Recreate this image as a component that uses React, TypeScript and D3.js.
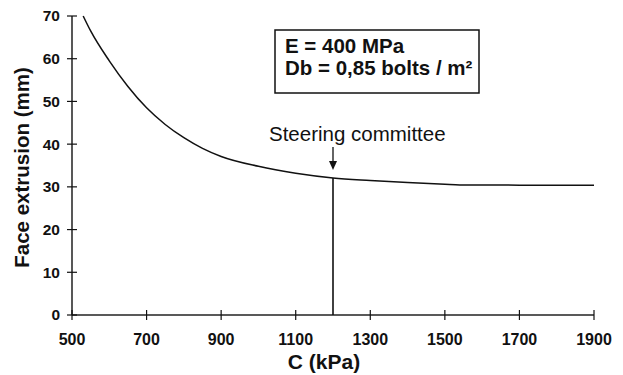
import React, { useEffect } from "react";
import * as d3 from "d3";

const cohesion = [530, 550, 600, 650, 700, 750, 800, 850, 900, 1000, 1100, 1200, 1300, 1400, 1500, 1540, 1700, 1900];
const extrusion = [70, 66.5, 59.5, 53.5, 48.5, 44.6, 41.5, 39.0, 37.1, 34.8, 33.2, 32.1, 31.5, 31.0, 30.6, 30.45, 30.4, 30.35];
const xTicks = [500, 700, 900, 1100, 1300, 1500, 1700, 1900];
const yTicks = [0, 10, 20, 30, 40, 50, 60, 70];
const markerC = 1200;
const markerLabel = "Steering committee";
const boxLines = ["E = 400 MPa", "Db = 0,85 bolts / m²"];
const xTitle = "C (kPa)";
const yTitle = "Face extrusion (mm)";

const W = 623;
const H = 375;
const FONT = "'Liberation Sans', Arial, Helvetica, sans-serif";

export default function App() {
  useEffect(() => {
    document.body.style.margin = "0";
  }, []);

  const x = d3.scaleLinear().domain([500, 1900]).range([72, 594]);
  const y = d3.scaleLinear().domain([0, 70]).range([315, 16]);

  const pts: [number, number][] = cohesion.map((c, i) => [c, extrusion[i]]);
  const line = d3
    .line<[number, number]>()
    .x((d) => x(d[0]))
    .y((d) => y(d[1]))
    .curve(d3.curveMonotoneX);

  const markerY = extrusion[cohesion.indexOf(markerC)];
  const mx = x(markerC);

  return (
    <svg width={W} height={H} style={{ position: "absolute", left: 0, top: 0, background: "#fff" }} fontFamily={FONT}>
      {/* axes */}
      <line x1={x(500)} x2={x(500)} y1={y(70)} y2={y(0)} stroke="#111" strokeWidth={1.4} />
      <line x1={x(500)} x2={x(1900)} y1={y(0)} y2={y(0)} stroke="#222" strokeWidth={1.4} />
      {yTicks.map((t) => (
        <g key={"y" + t}>
          <line x1={x(500) - 5} x2={x(500) + 5} y1={y(t)} y2={y(t)} stroke="#111" strokeWidth={1.2} />
          <text x={60} y={y(t)} dy="0.35em" textAnchor="end" fontSize={15.5} fontWeight="bold" fill="#111">
            {t}
          </text>
        </g>
      ))}
      {xTicks.map((t) => (
        <g key={"x" + t}>
          <line x1={x(t)} x2={x(t)} y1={y(0) - 5} y2={y(0) + 5} stroke="#111" strokeWidth={1.2} />
          <text x={x(t)} y={345} textAnchor="middle" fontSize={16} fontWeight="bold" fill="#111">
            {t}
          </text>
        </g>
      ))}
      <text x={324} y={369} textAnchor="middle" fontSize={21} fontWeight="bold" fill="#111">
        {xTitle}
      </text>
      <text
        transform={`translate(29,${(y(0) + y(70)) / 2 + 2}) rotate(-90)`}
        textAnchor="middle"
        fontSize={20.5}
        fontWeight="bold"
        fill="#111"
      >
        {yTitle}
      </text>

      {/* curve */}
      <path d={line(pts) || ""} fill="none" stroke="#111" strokeWidth={1.5} />

      {/* marker line */}
      <line x1={mx} x2={mx} y1={y(0)} y2={y(markerY)} stroke="#111" strokeWidth={1.6} />
      <line x1={mx} x2={mx} y1={147} y2={163} stroke="#111" strokeWidth={1.3} />
      <path d={`M${mx - 4},161 L${mx + 4},161 L${mx},170 Z`} fill="#111" />
      <text x={269} y={141} fontSize={20.5} fill="#111">
        {markerLabel}
      </text>

      {/* info box */}
      <rect x={275} y={30} width={204} height={63} fill="#fff" stroke="#111" strokeWidth={1.5} />
      {boxLines.map((s, i) => (
        <text key={s} x={285} y={53 + i * 21.5} fontSize={20.5} fontWeight="bold" fill="#111">
          {s}
        </text>
      ))}
    </svg>
  );
}
